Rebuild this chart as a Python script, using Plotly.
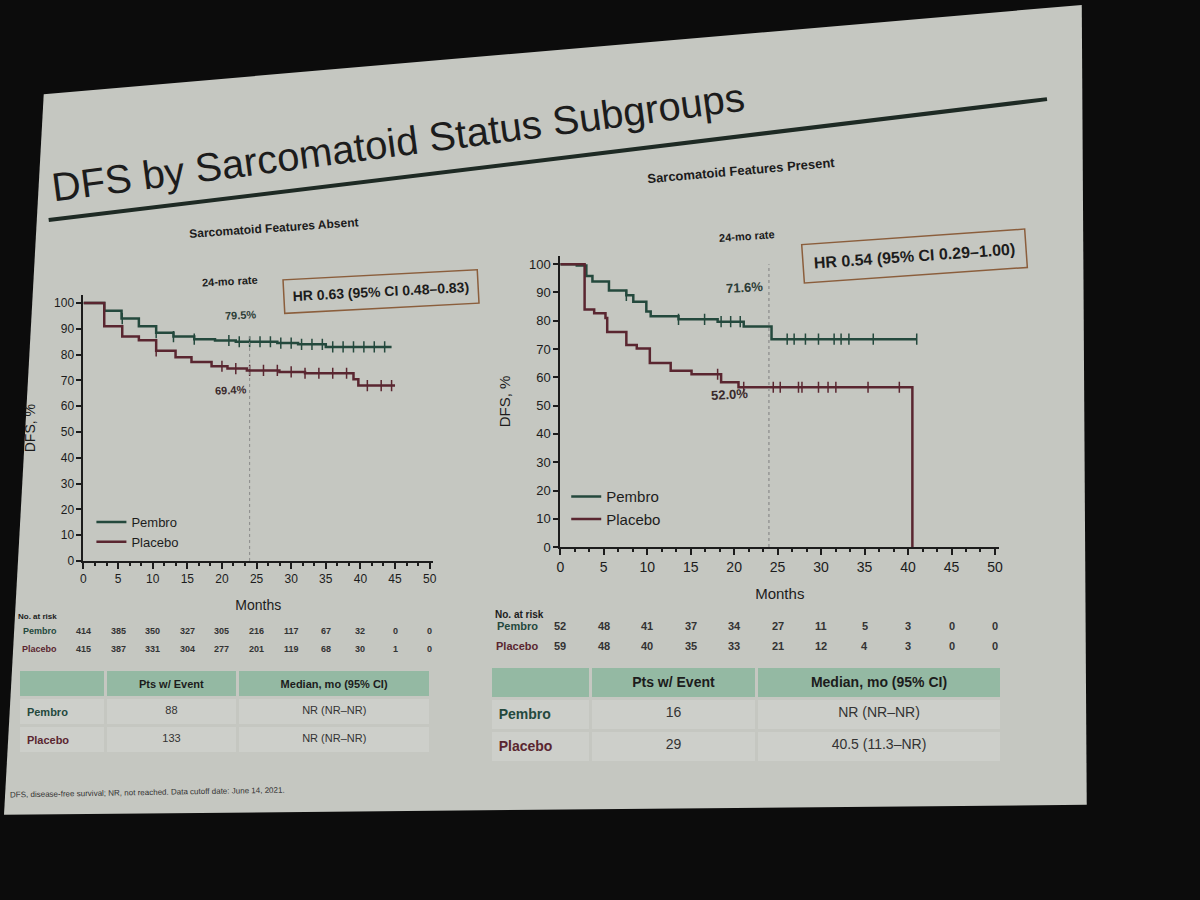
import plotly.graph_objects as go

# ---- data ----
# Sarcomatoid features absent (left panel)
abs_pem_t = [0, 3, 5.5, 8, 10.5, 13, 16, 19, 22, 28, 31, 35, 44.5]
abs_pem_s = [100, 97, 94, 91, 88.5, 87, 86, 85.5, 85, 84.5, 84, 83, 83]
abs_pla_t = [0, 3, 5.6, 8, 10.5, 13.3, 15.6, 18.5, 20.8, 23.6, 28.3, 32, 39, 39.7, 45]
abs_pla_s = [100, 91, 87, 85.6, 81.5, 79, 77.2, 75.5, 74.6, 73.9, 73.3, 72.8, 70.5, 68, 68]
abs_pem_cens = [5.6, 10.5, 13, 16, 21, 22.5, 24, 25.5, 27, 28.5, 30, 31.5, 33, 34.5, 36, 37.5, 39, 40.5, 42, 43.5]
abs_pla_cens = [10.5, 20, 22, 24, 26, 28, 30, 32, 34, 36, 38, 41, 43, 44.5]

# Sarcomatoid features present (right panel)
pre_pem_t = [0, 1.9, 3, 3.7, 5.6, 7.6, 8.4, 9.9, 10.4, 13.6, 18.1, 21.1, 24.3, 41]
pre_pem_s = [100, 99.5, 95.8, 93.9, 90.7, 89, 86.7, 83.3, 81.6, 80.5, 79.7, 78, 73.5, 73.5]
pre_pla_t = [0, 2.8, 3.9, 5.2, 5.4, 7.6, 8.8, 10.3, 12.7, 15.1, 18.5, 20.5, 40.5]
pre_pla_s = [100, 84, 82.7, 81, 76, 71.4, 70.2, 65.1, 62.3, 61.1, 58.3, 56.5, 0]
pre_pem_cens = [7.6, 13.6, 16.6, 18.5, 19.6, 20.7, 26.1, 26.9, 28.2, 29.7, 31.5, 32.3, 33.2, 36.0, 41]
pre_pla_cens = [18.1, 21.1, 24.5, 25.3, 27.4, 27.8, 29.7, 30.8, 31.7, 35.4, 39.0]

rate_month = 24
risk_months = [0, 5, 10, 15, 20, 25, 30, 35, 40, 45, 50]
abs_risk_pem = [414, 385, 350, 327, 305, 216, 117, 67, 32, 0, 0]
abs_risk_pla = [415, 387, 331, 304, 277, 201, 119, 68, 30, 1, 0]
pre_risk_pem = [52, 48, 41, 37, 34, 27, 11, 5, 3, 0, 0]
pre_risk_pla = [59, 48, 40, 35, 33, 21, 12, 4, 3, 0, 0]

table_header = ["", "Pts w/ Event", "Median, mo (95% CI)"]
arms = ["Pembro", "Placebo"]
abs_events = ["88", "133"]
abs_median = ["NR (NR–NR)", "NR (NR–NR)"]
pre_events = ["16", "29"]
pre_median = ["NR (NR–NR)", "40.5 (11.3–NR)"]

PEM = "#24493d"
PLA = "#5a2630"
INK = "#1c1c1c"
SLIDE = "#c5c7c1"
FONT = "Liberation Sans"
W, H = 1200, 900


def px(x):
    return x / W


def py(y):
    return 1 - y / H


def step_at(ts, ss, t):
    val = ss[0]
    for ti, si in zip(ts, ss):
        if ti <= t:
            val = si
    return val


def km_traces(fig, ts, ss, cens, color, name, xa, ya, legend):
    fig.add_trace(go.Scatter(x=ts, y=ss, mode="lines", line=dict(color=color, width=2.5, shape="hv"),
                             name=name, xaxis=xa, yaxis=ya, legend=legend))
    # censoring ticks
    fig.add_trace(go.Scatter(x=cens, y=[step_at(ts, ss, c) for c in cens], mode="markers",
                             marker=dict(symbol="line-ns-open", size=8, color=color,
                                         line=dict(color=color, width=1.5)),
                             showlegend=False, xaxis=xa, yaxis=ya, hoverinfo="skip"))


def axis_style(title, size):
    return dict(showline=True, linecolor=INK, linewidth=2, ticks="outside", tickcolor=INK,
                tickwidth=1.5, showgrid=False, zeroline=False,
                tickfont=dict(family=FONT, size=size, color=INK),
                title=dict(text=title, font=dict(family=FONT, size=size + 2, color=INK)))


def main():
    fig = go.Figure()

    km_traces(fig, abs_pem_t, abs_pem_s, abs_pem_cens, PEM, "Pembro", "x", "y", "legend")
    km_traces(fig, abs_pla_t, abs_pla_s, abs_pla_cens, PLA, "Placebo", "x", "y", "legend")
    km_traces(fig, pre_pem_t, pre_pem_s, pre_pem_cens, PEM, "Pembro", "x2", "y2", "legend2")
    km_traces(fig, pre_pla_t, pre_pla_s, pre_pla_cens, PLA, "Placebo", "x2", "y2", "legend2")

    # summary tables under each panel
    for dom_x, dom_y, events, median, size, widths in [
        ([px(15), px(430)], [py(762), py(676)], abs_events, abs_median, 11, [85, 130, 190]),
        ([px(490), px(1005)], [py(775), py(672)], pre_events, pre_median, 14, [100, 165, 245]),
    ]:
        fig.add_trace(go.Table(
            domain=dict(x=dom_x, y=dom_y),
            columnwidth=widths,
            header=dict(values=["<b>%s</b>" % h for h in table_header], fill_color="#94b9a3",
                        line=dict(color=SLIDE, width=3), align="center", height=size * 2.2,
                        font=dict(family=FONT, size=size, color=INK)),
            cells=dict(values=[["<b>%s</b>" % a for a in arms], events, median],
                       fill_color="#cdcfca", line=dict(color=SLIDE, width=3),
                       align=["left", "center", "center"], height=size * 2.2,
                       font=dict(family=FONT, size=size, color=[[PEM, PLA], "#333333", "#333333"])),
        ))

    xa = axis_style("Months", 12)
    xa.update(range=[0, 50.5], tickvals=risk_months, ticklen=6,
              minor=dict(dtick=5 / 3, tick0=0, ticklen=3, ticks="outside", tickcolor=INK))
    ya = axis_style("DFS, %", 12)
    ya.update(range=[0, 103], tickvals=list(range(0, 101, 10)), ticklen=5)
    xa2 = dict(xa, tickfont=dict(family=FONT, size=14, color=INK),
               title=dict(text="Months", font=dict(family=FONT, size=15, color=INK)))
    ya2 = dict(ya, tickfont=dict(family=FONT, size=13, color=INK),
               title=dict(text="DFS, %", font=dict(family=FONT, size=15, color=INK)))

    shapes = [
        # slide surface
        dict(type="path", xref="paper", yref="paper", layer="below", line=dict(width=0), fillcolor=SLIDE,
             path="M %f %f L %f %f L %f %f L %f %f Z" % (px(40), py(95), px(1085), py(5),
                                                         px(1090), py(812), px(0), py(822))),
        # title rule
        dict(type="line", xref="paper", yref="paper", x0=px(45), y0=py(222), x1=px(1050), y1=py(100),
             line=dict(color="#1e2a24", width=4)),
        # 24-month reference lines
        dict(type="line", xref="x", yref="y", x0=rate_month, x1=rate_month, y0=0, y1=88,
             line=dict(color="#8a8a8a", width=1, dash="dot")),
        dict(type="line", xref="x2", yref="y2", x0=rate_month, x1=rate_month, y0=0, y1=100,
             line=dict(color="#8a8a8a", width=1.2, dash="dot")),
    ]

    def txt(text, x, y, size, angle=0, bold=True, color=INK, **kw):
        d = dict(text="<b>%s</b>" % text if bold else text, xref="paper", yref="paper",
                 x=px(x), y=py(y), showarrow=False, textangle=angle,
                 xanchor="center", yanchor="middle",
                 font=dict(family=FONT, size=size, color=color))
        d.update(kw)
        return d

    ann = [
        txt("DFS by Sarcomatoid Status Subgroups", 397, 143, 40, angle=-7.5, bold=False),
        txt("Sarcomatoid Features Absent", 272, 230, 12, angle=-4),
        txt("Sarcomatoid Features Present", 742, 172, 13, angle=-5),
        txt("24-mo rate", 228, 284, 11, angle=-3),
        txt("79.5%", 238, 318, 11, angle=-3, color="#2c3c36"),
        txt("69.4%", 228, 393, 11, angle=-3, color="#3a2a2c"),
        txt("HR 0.63 (95% CI 0.48–0.83)", 380, 294, 14, angle=-3,
            bordercolor="#8b5e3c", borderwidth=1.5, borderpad=8),
        txt("24-mo rate", 748, 238, 11, angle=-4),
        txt("71.6%", 745, 290, 13, angle=-3, color="#2c3c36"),
        txt("52.0%", 730, 398, 13, angle=-3, color="#3a2a2c"),
        txt("HR 0.54 (95% CI 0.29–1.00)", 917, 258, 16, angle=-4,
            bordercolor="#8b5e3c", borderwidth=1.5, borderpad=10),
        txt("No. at risk", 12, 622, 8, xanchor="left"),
        txt("No. at risk", 492, 620, 10, xanchor="left"),
        txt("DFS, disease-free survival; NR, not reached. Data cutoff date: June 14, 2021.", 4, 800, 8,
            bold=False, xanchor="left", angle=-1, color="#333333"),
    ]

    # numbers at risk, aligned to the month ticks
    for xref, yrows, risks, size, lab_x in [
        ("x", [637, 655], [abs_risk_pem, abs_risk_pla], 9, 55),
        ("x2", [632, 652], [pre_risk_pem, pre_risk_pla], 11, 540),
    ]:
        for row_y, arm, counts, col in zip(yrows, arms, risks, [PEM, PLA]):
            ann.append(txt(arm, lab_x, row_y, size, xanchor="right", color=col))
            for m, n in zip(risk_months, counts):
                ann.append(dict(text="<b>%d</b>" % n, xref=xref, yref="paper", x=m, y=py(row_y),
                                showarrow=False, xanchor="center", yanchor="middle",
                                font=dict(family=FONT, size=size, color="#333333")))

    legend_style = dict(bgcolor="rgba(0,0,0,0)", xanchor="left", yanchor="bottom", tracegroupgap=0)

    fig.update_layout(
        width=W, height=H,
        margin=dict(l=0, r=0, t=0, b=0),
        paper_bgcolor="#0c0c0c",
        plot_bgcolor="rgba(0,0,0,0)",
        font=dict(family=FONT, color=INK),
        xaxis=dict(xa, domain=[px(80), px(432)], anchor="y"),
        yaxis=dict(ya, domain=[py(566), py(298)], anchor="x"),
        xaxis2=dict(xa2, domain=[px(560), px(1002)], anchor="y2"),
        yaxis2=dict(ya2, domain=[py(552), py(258)], anchor="x2"),
        legend=dict(legend_style, x=px(88), y=py(562), font=dict(family=FONT, size=13, color=INK)),
        legend2=dict(legend_style, x=px(566), y=py(540), font=dict(family=FONT, size=15, color=INK)),
        shapes=shapes,
        annotations=ann,
    )

    fig.write_html("out.html", config={"displayModeBar": False},
                   post_script="document.body.style.margin='0';"
                               "document.body.style.background='#0c0c0c';")


main()
